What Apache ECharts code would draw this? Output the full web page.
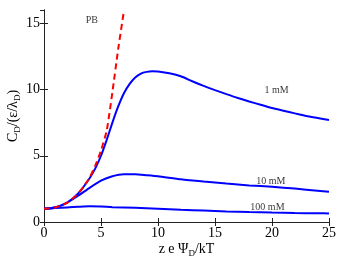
<!DOCTYPE html>
<html>
<head>
<meta charset="utf-8">
<script src="https://cdn.jsdelivr.net/npm/echarts@6/dist/echarts.min.js"></script>
<style>html,body{margin:0;padding:0;background:#fff}#c{width:346px;height:268px}</style>
</head>
<body>
<div id="c"></div>
<script>
var pbX = [0,0.5,1,1.5,2,2.5,3,3.5,4,4.5,5,5.5,6,6.5,6.97];
var pbY = [1.0,1.03,1.1,1.25,1.45,1.75,2.15,2.7,3.35,4.25,5.4,6.9,9.8,13.0,15.7];
var m1X = [0,1,2,3,4,4.5,5,5.5,6,6.5,7,7.5,8,8.5,9,9.5,10,11,12,13,14,15,16,17,18,19,20,21,22,23,24,25];
var m1Y = [1.0,1.1,1.45,2.15,3.3,4.05,5.0,6.2,7.5,8.7,9.7,10.4,10.9,11.2,11.33,11.38,11.35,11.22,11.0,10.62,10.27,9.95,9.65,9.36,9.1,8.85,8.6,8.4,8.2,8.0,7.85,7.7];
var m10X = [0,1,2,3,4,5,6,7,8,9,10,12,14,16,18,20,22,24,25];
var m10Y = [1.0,1.12,1.45,1.98,2.58,3.12,3.45,3.6,3.6,3.53,3.45,3.22,3.05,2.9,2.76,2.66,2.52,2.36,2.28];
var m100X = [0,1,2,3,4,5,6,8,10,12,14,16,18,20,22,24,25];
var m100Y = [1.0,1.05,1.1,1.15,1.19,1.17,1.12,1.07,1.0,0.92,0.86,0.8,0.75,0.71,0.68,0.66,0.65];
var labelText = ['PB','1 mM','10 mM','100 mM'];
var labelX = [4.2,20.4,19.9,19.6];
var labelY = [15.2,9.9,3.1,1.1];
var xTicks = [0,5,10,15,20,25];
var yTicks = [0,5,10,15];

function zip(xs, ys){ return xs.map(function(x,i){ return [x, ys[i]]; }); }

var serif = '"Liberation Serif","Times New Roman",serif';
var chart = echarts.init(document.getElementById('c'), null, {renderer:'canvas'});
var axisCommon = {
  axisLine: {show:true, lineStyle:{color:'#222', width:1}},
  axisTick: {show:true, inside:true, length:4, lineStyle:{color:'#222'}},
  splitLine: {show:false}
};
var richName = {a:{fontFamily:serif, fontSize:14, color:'#000', lineHeight:18, verticalAlign:'middle'}, s:{fontFamily:serif, fontSize:9, color:'#000', lineHeight:18, verticalAlign:'bottom'}};
chart.setOption({
  animation: false,
  backgroundColor: '#fff',
  grid: {left:44, right:17, top:10, bottom:46, containLabel:false, outerBoundsMode:'none'},
  xAxis: [
    Object.assign({type:'value', min:xTicks[0], max:xTicks[xTicks.length-1], interval:5, position:'bottom',
      axisLabel:{color:'#000', fontFamily:serif, fontSize:14, margin:4},
      name:'{a|z e Ψ}{s|D}{a|/kT}', nameLocation:'middle', nameGap:18, nameMoveOverlap:false,
      nameTextStyle:{rich:richName}
    }, axisCommon),
    Object.assign({type:'value', min:0, max:25, interval:5, position:'top', axisLabel:{show:false}}, axisCommon)
  ],
  yAxis: [
    Object.assign({type:'value', min:yTicks[0], max:16, interval:5, position:'left',
      axisLabel:{color:'#000', fontFamily:serif, fontSize:14, margin:4, showMaxLabel:false},
      name:'{a|C}{s|D}{a|/(ε/λ}{s|D}{a|)}', nameLocation:'middle', nameGap:22, nameRotate:90, nameMoveOverlap:false,
      nameTextStyle:{rich:richName}
    }, axisCommon),
    Object.assign({type:'value', min:0, max:16, interval:5, position:'right', axisLabel:{show:false}}, axisCommon)
  ],
  series: [
    {type:'line', data:zip(m100X,m100Y), showSymbol:false, smooth:0.2, lineStyle:{color:'#0000ff', width:2}, z:2},
    {type:'line', data:zip(m10X,m10Y), showSymbol:false, smooth:0.2, lineStyle:{color:'#0000ff', width:2}, z:2},
    {type:'line', data:zip(m1X,m1Y), showSymbol:false, smooth:0.2, lineStyle:{color:'#0000ff', width:2}, z:2},
    {type:'line', data:zip(pbX,pbY), showSymbol:false, smooth:0.2, lineStyle:{color:'#ff0000', width:2, type:[6,4]}, z:3},
    {type:'scatter', symbolSize:0, z:4,
      data: labelText.map(function(t,i){ return {value:[labelX[i], labelY[i]], name:t}; }),
      label:{show:true, position:'inside', formatter:function(p){return p.name;}, fontFamily:serif, fontSize:10, color:'#000'}}
  ]
});
</script>
</body>
</html>
